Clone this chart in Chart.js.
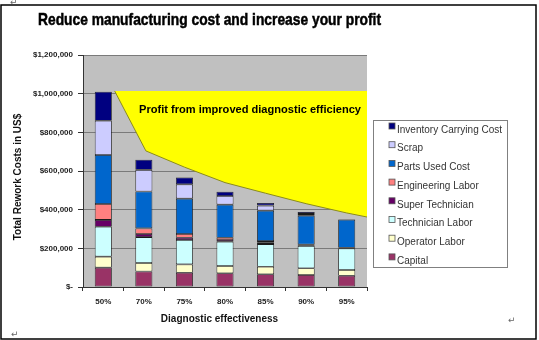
<!DOCTYPE html>
<html>
<head>
<meta charset="utf-8">
<script src="https://cdn.jsdelivr.net/npm/chart.js@4.4.1/dist/chart.umd.min.js"></script>
<style>
  html, body { margin: 0; padding: 0; background: #fff; }
  #wrap { width: 539px; height: 340px; position: relative; }
</style>
</head>
<body>
<div id="wrap"><canvas id="c" width="539" height="340"></canvas></div>
<script>
// ---- Data ----
const categories = ['50%', '70%', '75%', '80%', '85%', '90%', '95%'];
const capital               = [100000,  80000,  74000,  71000,  66000,  62000,  58000];
const operatorLabor         = [ 57000,  44000,  43000,  38000,  39000,  35000,  30000];
const technicianLabor       = [155000, 134000, 126000, 125000, 117000, 115000, 112000];
const superTechnician       = [ 35000,  16000,  12000,   9000,   9000,   4000,   2000];
const engineeringLabor      = [ 82000,  29000,  19000,  12000,   7000,   3000,   1000];
const partsUsedCost         = [254000, 191000, 183000, 171000, 157000, 150000, 145000];
const scrap                 = [177000, 112000,  74000,  45000,  26000,   9000,      0];
const inventoryCarryingCost = [150000,  52000,  36000,  22000,  14000,  10000,   2000];

// profit region boundary (x in category units, y in US$)
const profitX = [0.28, 1.05, 2, 3, 4, 5, 6, 6.5];
const profitY = [1014000, 704000, 620000, 540000, 485000, 431000, 383000, 362000];
const profitTop = 1014000;

const yTicks = [0, 200000, 400000, 600000, 800000, 1000000, 1200000];

const titleText = 'Reduce manufacturing cost and increase your profit';
const yTitle = 'Total Rework Costs in US$';
const xTitle = 'Diagnostic effectiveness';
const profitLabel = 'Profit from improved diagnostic efficiency';

const series = [
  { label: 'Capital', data: capital, color: '#993366' },
  { label: 'Operator Labor', data: operatorLabor, color: '#FFFFCC' },
  { label: 'Technician Labor', data: technicianLabor, color: '#CCFFFF' },
  { label: 'Super Technician', data: superTechnician, color: '#660066' },
  { label: 'Engineering Labor', data: engineeringLabor, color: '#FF8080' },
  { label: 'Parts Used Cost', data: partsUsedCost, color: '#0066CC' },
  { label: 'Scrap', data: scrap, color: '#CCCCFF' },
  { label: 'Inventory Carrying Cost', data: inventoryCarryingCost, color: '#000080' }
];

const barDatasets = series.map(s => ({
  type: 'bar',
  label: s.label,
  data: s.data,
  backgroundColor: s.color,
  borderColor: '#1a1a1a',
  borderWidth: 0.8,
  borderSkipped: false,
  barPercentage: 0.42,
  categoryPercentage: 1.0,
  grouped: false,
  xAxisID: 'x',
  yAxisID: 'y',
  order: 1
}));

const profitDataset = {
  type: 'line',
  label: '__profit',
  data: profitX.map((x, i) => ({ x: x, y: profitY[i] })),
  xAxisID: 'x2',
  yAxisID: 'y',
  stack: 'profit',
  borderColor: '#8a8a20',
  borderWidth: 1,
  backgroundColor: '#FFFF00',
  fill: { value: profitTop },
  pointRadius: 0,
  tension: 0,
  order: 2
};

const decor = {
  id: 'decor',
  beforeDraw(chart) {
    const ctx = chart.ctx, a = chart.chartArea;
    ctx.save();
    ctx.fillStyle = '#fff';
    ctx.fillRect(0, 0, chart.width, chart.height);
    ctx.fillStyle = '#C0C0C0';
    ctx.fillRect(a.left, a.top, a.right - a.left, a.bottom - a.top);
    ctx.restore();
  },
  afterDraw(chart) {
    const ctx = chart.ctx;
    ctx.save();
    // Title
    ctx.fillStyle = '#000';
    ctx.font = 'bold 17px "Liberation Sans Narrow", "Liberation Sans", Arial, sans-serif';
    ctx.textBaseline = 'alphabetic';
    ctx.textAlign = 'left';
    let w = ctx.measureText(titleText).width;
    ctx.save();
    ctx.translate(38, 25);
    ctx.scale(343 / w, 1);
    ctx.fillText(titleText, 0, 0);
    ctx.strokeStyle = '#000';
    ctx.lineWidth = 0.5;
    ctx.strokeText(titleText, 0, 0);
    ctx.restore();

    // Y title
    ctx.font = 'bold 10px "Liberation Sans", Arial, sans-serif';
    ctx.fillStyle = '#111';
    ctx.textAlign = 'center';
    ctx.textBaseline = 'middle';
    ctx.save();
    ctx.translate(18, 177);
    ctx.rotate(-Math.PI / 2);
    ctx.fillText(yTitle, 0, 0);
    ctx.restore();

    // X title
    ctx.fillText(xTitle, 219.5, 319);

    // Profit label
    ctx.font = 'bold 11px "Liberation Sans", Arial, sans-serif';
    ctx.fillStyle = '#000';
    ctx.textAlign = 'left';
    w = ctx.measureText(profitLabel).width;
    ctx.save();
    ctx.translate(139, 110);
    ctx.scale(222 / w, 1);
    ctx.fillText(profitLabel, 0, 0);
    ctx.restore();

    // Legend
    ctx.fillStyle = '#fff';
    ctx.fillRect(373, 120, 134, 147);
    ctx.strokeStyle = '#808080';
    ctx.lineWidth = 1;
    ctx.strokeRect(373.5, 120.5, 134, 147);
    const items = chart.data.datasets.filter(d => d.type === 'bar').slice().reverse();
    ctx.font = '10px "Liberation Sans", Arial, sans-serif';
    ctx.textAlign = 'left';
    ctx.textBaseline = 'middle';
    items.forEach((d, i) => {
      const cy = 130 + i * 18.7;
      ctx.fillStyle = d.backgroundColor;
      ctx.fillRect(389, cy - 7, 6, 6);
      ctx.strokeStyle = '#555';
      ctx.lineWidth = 0.8;
      ctx.strokeRect(389, cy - 7, 6, 6);
      ctx.fillStyle = '#333';
      ctx.fillText(d.label, 397, cy);
    });

    // Frame
    ctx.strokeStyle = '#000';
    ctx.lineWidth = 1.5;
    ctx.strokeRect(1, 5, 535, 334);

    // Paragraph marks
    ctx.fillStyle = '#666';
    ctx.font = '9px "DejaVu Sans", sans-serif';
    ctx.textAlign = 'left';
    ctx.textBaseline = 'middle';
    ctx.fillText('\u21B5', 10, 3);
    ctx.fillText('\u21B5', 11, 335);
    ctx.fillText('\u21B5', 508, 321);
    ctx.restore();
  }
};

new Chart(document.getElementById('c'), {
  type: 'bar',
  data: {
    labels: categories,
    datasets: [...barDatasets, profitDataset]
  },
  options: {
    responsive: false,
    animation: false,
    layout: { padding: { top: 55, right: 172, left: 0, bottom: 0 } },
    plugins: {
      legend: { display: false },
      tooltip: { enabled: false },
      title: { display: false }
    },
    scales: {
      x: {
        type: 'category',
        stacked: true,
        offset: true,
        afterFit(s) { s.height = 53; },
        grid: { display: true, drawOnChartArea: false, offset: true, tickLength: 4, tickColor: '#333' },
        border: { display: true, color: '#333', width: 1 },
        ticks: { color: '#222', padding: 6, font: { family: '"Liberation Sans", Arial, sans-serif', size: 8, weight: 'bold' }, maxRotation: 0 }
      },
      x2: {
        type: 'linear',
        display: false,
        offset: false,
        grid: { offset: false },
        min: -0.5,
        max: 6.5
      },
      y: {
        stacked: true,
        min: 0,
        max: 1200000,
        afterFit(s) { s.width = 83; },
        afterBuildTicks(s) { s.ticks = yTicks.map(v => ({ value: v })); },
        grid: { color: '#7a7a7a', lineWidth: 1, tickLength: 5, tickColor: '#333' },
        border: { display: true, color: '#333', width: 1 },
        ticks: {
          color: '#222',
          padding: 5,
          font: { family: '"Liberation Sans", Arial, sans-serif', size: 8, weight: 'bold' },
          callback: v => v === 0 ? '$-' : '$' + v.toLocaleString('en-US')
        }
      }
    }
  },
  plugins: [decor]
});
</script>
</body>
</html>
